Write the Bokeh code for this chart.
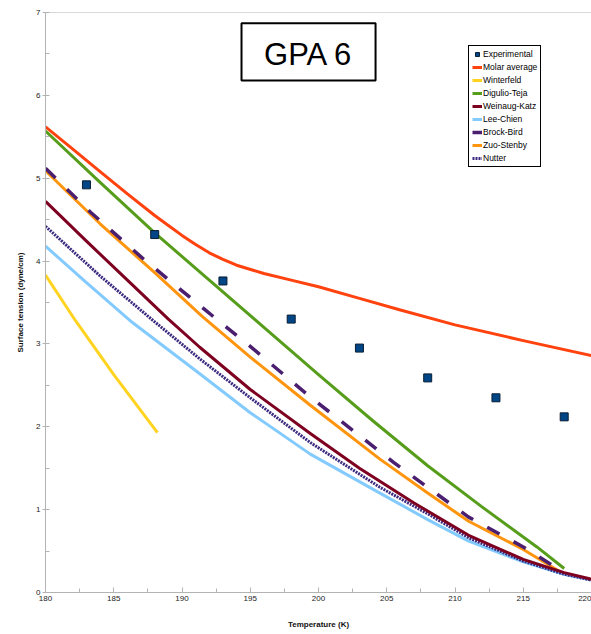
from bokeh.plotting import figure
from bokeh.models import Range1d, FixedTicker, Legend, LegendItem, Label, BoxAnnotation, Span
from bokeh.embed import file_html
from bokeh.resources import INLINE

# ---- data ----
exp_T = [183, 188, 193, 198, 203, 208, 213, 218]
exp_st = [4.92, 4.32, 3.76, 3.30, 2.95, 2.59, 2.35, 2.12]

molar_T = [180, 182, 184, 186, 188, 189, 190, 191, 192, 193, 194, 196, 198, 200, 203, 206, 210, 215, 220]
molar_st = [5.62, 5.35, 5.08, 4.81, 4.55, 4.43, 4.31, 4.20, 4.10, 4.02, 3.95, 3.85, 3.77, 3.69, 3.55, 3.41, 3.23, 3.04, 2.86]

winter_T = [180, 182.2, 185, 188.2]
winter_st = [3.83, 3.28, 2.63, 1.93]

digulio_T = [180, 184, 188, 192, 196, 200, 204, 208, 212, 216, 218]
digulio_st = [5.57, 4.95, 4.34, 3.77, 3.20, 2.63, 2.07, 1.53, 1.03, 0.55, 0.29]

weinaug_T = [180, 183, 186, 189, 191.3, 195, 199.4, 203, 207, 211, 215, 218, 220]
weinaug_st = [4.72, 4.24, 3.77, 3.30, 2.96, 2.45, 1.92, 1.50, 1.08, 0.69, 0.40, 0.24, 0.16]

lee_T = [180, 183, 186.2, 191.3, 195, 199.4, 204.5, 208, 211, 215, 218, 220]
lee_st = [4.18, 3.74, 3.28, 2.64, 2.17, 1.67, 1.20, 0.88, 0.62, 0.37, 0.22, 0.15]

brock_T = [180, 183.3, 187, 191.7, 195, 199.4, 205.5, 211, 215, 217.4]
brock_st = [5.12, 4.59, 4.05, 3.41, 2.97, 2.36, 1.57, 0.91, 0.55, 0.30]

zuo_T = [180, 184, 188, 191.5, 195, 199.4, 204.5, 208, 211, 215, 218]
zuo_st = [5.09, 4.45, 3.86, 3.33, 2.84, 2.26, 1.61, 1.20, 0.86, 0.52, 0.22]

nutter_T = [180, 184, 187.9, 191.3, 195, 199.4, 204.5, 208, 211, 215, 218, 220]
nutter_st = [4.42, 3.82, 3.28, 2.82, 2.35, 1.81, 1.27, 0.95, 0.66, 0.38, 0.22, 0.15]

x_ticks = [180, 185, 190, 195, 200, 205, 210, 215, 220]
y_ticks = [0, 1, 2, 3, 4, 5, 6, 7]

FONT = "Liberation Sans"

p = figure(width=591, height=634, output_backend="svg", toolbar_location=None,
           x_range=Range1d(180, 220), y_range=Range1d(0, 7),
           min_border_left=45, min_border_right=0, min_border_top=12, min_border_bottom=42)
p.outline_line_color = None
p.xgrid.grid_line_color = None
p.ygrid.grid_line_color = None
p.background_fill_color = "white"
p.border_fill_color = "white"

# axes
for ax in (p.xaxis[0], p.yaxis[0]):
    ax.axis_line_color = "#b3b3b3"
    ax.major_tick_line_color = "#b3b3b3"
    ax.minor_tick_line_color = "#b3b3b3"
    ax.major_label_text_font = FONT
    ax.major_label_text_font_size = "8px"
    ax.major_label_text_color = "#222222"
    ax.axis_label_text_font = FONT
    ax.axis_label_text_font_size = "8px"
    ax.axis_label_text_font_style = "bold"
    ax.axis_label_text_color = "#111111"

p.xaxis.ticker = FixedTicker(ticks=x_ticks, minor_ticks=[180 + 2.5 * i for i in range(17)])
p.yaxis.ticker = FixedTicker(ticks=y_ticks, minor_ticks=[0.5 * i for i in range(15)])
p.xaxis.major_tick_in = 5
p.xaxis.major_tick_out = 0
p.xaxis.minor_tick_in = 4
p.xaxis.minor_tick_out = 0
p.xaxis.major_label_standoff = 3
p.xaxis.axis_label = "Temperature (K)"
p.xaxis.axis_label_standoff = 16

p.yaxis.major_tick_in = 0
p.yaxis.major_tick_out = 3
p.yaxis.minor_tick_in = 4
p.yaxis.minor_tick_out = 0
p.yaxis.major_label_standoff = 2
p.yaxis.axis_label = "Surface tension (dyne/cm)"
p.yaxis.axis_label_standoff = 8

p.add_layout(Span(location=7, dimension="width", line_color="#b3b3b3", line_width=1))

# series
W = 3
r_molar = p.line(molar_T, molar_st, line_color="#ff420e", line_width=W, line_join="round")
r_winter = p.line(winter_T, winter_st, line_color="#ffd320", line_width=W, line_join="round")
r_dig = p.line(digulio_T, digulio_st, line_color="#579d1c", line_width=W, line_join="round")
r_zuo = p.line(zuo_T, zuo_st, line_color="#ff950e", line_width=W, line_join="round")
r_brock = p.line(brock_T, brock_st, line_color="#4b1f6f", line_width=3.5, line_dash="14 16")
r_lee = p.line(lee_T, lee_st, line_color="#83caff", line_width=W, line_join="round")
r_nutter = p.line(nutter_T, nutter_st, line_color="#3b2a7f", line_width=3, line_dash="2 1")
r_wk = p.line(weinaug_T, weinaug_st, line_color="#7e0021", line_width=W, line_join="round")
r_exp = p.scatter(exp_T, exp_st, marker="square", size=8, fill_color="#004586",
                  line_color="#0a1e33", line_width=1)

legend = Legend(items=[
    LegendItem(label="Experimental", renderers=[r_exp]),
    LegendItem(label="Molar average", renderers=[r_molar]),
    LegendItem(label="Winterfeld", renderers=[r_winter]),
    LegendItem(label="Digulio-Teja", renderers=[r_dig]),
    LegendItem(label="Weinaug-Katz", renderers=[r_wk]),
    LegendItem(label="Lee-Chien", renderers=[r_lee]),
    LegendItem(label="Brock-Bird", renderers=[r_brock]),
    LegendItem(label="Zuo-Stenby", renderers=[r_zuo]),
    LegendItem(label="Nutter", renderers=[r_nutter]),
], location=(423, 425), orientation="vertical")
legend.label_text_font = FONT
legend.label_text_font_size = "8.5px"
legend.label_text_color = "#000000"
legend.glyph_width = 10
legend.glyph_height = 10
legend.label_height = 10
legend.label_standoff = 1
legend.spacing = 3
legend.padding = 3
legend.margin = 0
legend.border_line_color = "#000000"
legend.border_line_width = 1
legend.border_line_alpha = 1
legend.background_fill_color = "white"
legend.background_fill_alpha = 1
p.add_layout(legend)

# title box
p.add_layout(BoxAnnotation(left=194.36, right=204.18, bottom=6.18, top=6.87,
                           fill_color="white", fill_alpha=1,
                           line_color="black", line_alpha=1, line_width=2))
p.add_layout(Label(x=199.27, y=6.49, text="GPA 6", text_font=FONT, text_font_size="31px",
                   text_align="center", text_baseline="middle", text_color="black"))

open("out.html", "w").write(file_html(p, INLINE))
